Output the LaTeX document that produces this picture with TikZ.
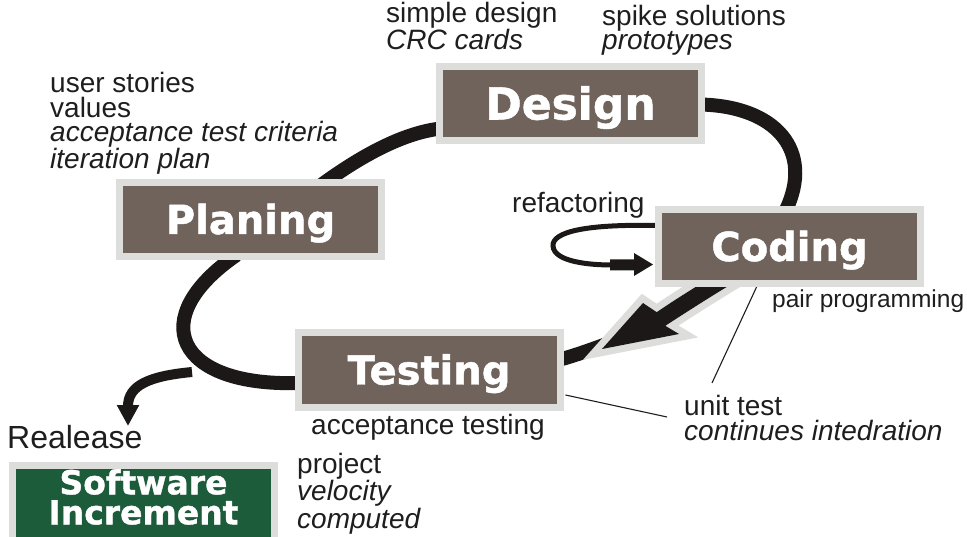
\documentclass[tikz,border=0pt]{standalone}
\usepackage{fontspec}
\setmainfont{Liberation Sans}
\newfontfamily\boxfont{DejaVu Sans}[BoldFeatures={FakeBold=1.2}]
\usetikzlibrary{calc,backgrounds,arrows.meta}

\definecolor{stagebrown}{RGB}{111,99,92}
\definecolor{stageedge}{RGB}{221,221,219}
\definecolor{releasegreen}{RGB}{28,92,58}
\definecolor{flowink}{RGB}{28,24,24}
\definecolor{noteink}{RGB}{30,30,30}

\tikzset{
  stage/.style={draw=stageedge, line width=7pt, fill=stagebrown,
    minimum width=262pt, minimum height=74pt, inner sep=0pt, text=white,
    font=\boxfont\bfseries\fontsize{40}{40}\selectfont,
    text height=29pt, text depth=0pt},
  note/.style={anchor=base west, inner sep=0pt, align=left, text=noteink,
    font=\fontsize{28}{24.7}\selectfont},
  flow/.style={draw=flowink, line width=14pt},
  loopline/.style={draw=flowink, line width=5pt},
  thinline/.style={draw=noteink, line width=1.1pt},
}

\begin{document}
\begin{tikzpicture}[x=1pt,y=-1pt]
\useasboundingbox (0,0) rectangle (967,537);

% process stages
\node[stage, font=\boxfont\bfseries\fontsize{44}{44}\selectfont, text height=32pt] (design) at (570.5,103.5) {Design};
\node[stage] (planing) at (250.5,219.5) {Planing};
\node[stage] (coding)  at (789.5,246.5) {Coding};
\node[stage] (testing) at (429,370) {Testing};

% release box
\node[stage, fill=releasegreen, minimum height=80pt] (release) at (143.5,505) {};
\node[text=white, align=center, inner sep=0pt,
      font=\boxfont\bfseries\fontsize{33}{30}\selectfont] (releaselabel) at (release.center) [yshift=8pt] {Software\\Increment};

% notes (multi-line notes are placed by the baseline of their last line)
\node[note] (designnotes) at (386,50) {simple design\\\textit{CRC cards}};
\node[note] (spikenotes) at (602,50) {spike solutions\\\textit{prototypes}};
\node[note] (plannotes) at (50,169) {user stories\\values\\\textit{acceptance test criteria}\\\textit{iteration plan}};
\node[note] (refactor) at (512,213) {refactoring};
\node[note, font=\fontsize{24.5}{24.5}\selectfont] (pairprog) at (772,308) {pair programming};
\node[note] (unittest) at (684,440) {unit test\\\textit{continues intedration}};
\node[note] (acctest) at (311,435) {acceptance testing};
\node[note, font=\fontsize{32}{32}\selectfont] (releasetag) at (7,448) {Realease};
\node[note, font=\fontsize{28}{24}\selectfont] (velocity) at (297,528) {project\\\textit{velocity}\\\textit{computed}};

\coordinate (fork) at (192,372);
\coordinate (releasetip) at (128,426);
\coordinate (unitA) at (712,383);
\coordinate (unitB) at (667,417);

\begin{scope}[on background layer]
  \fill[white] (0,0) rectangle (967,537);

  % main cycle
  \draw[flow] ($(planing.north)+(68,8)$) .. controls (355,160) and (400,133) .. ($(design.west)+(5,25)$);
  \draw[flow] ($(design.east)+(-5,1)$) .. controls (775,106) and (815,150) .. ($(coding.north)+(-4,5)$);
  \draw[flow] ($(testing.west)+(5,13)$) .. controls (175,387) and (145,318) .. ($(planing.south)+(-14,-5)$);
  \draw[flow] ($(testing.east)+(-5,-10)$) .. controls (580,354) and (598,347) .. (615,341);

  % release branch
  \draw[flowink, line width=10pt, -{Triangle[width=21pt,length=21pt]}]
    (fork) .. controls (150,376) and (128,385) .. (releasetip);

  % coding -> testing arrow with halo
  \fill[flowink, preaction={draw=stageedge, line width=14pt, line join=miter}]
    (721.7,271.2) .. controls (695,287) and (670,303) .. (656.7,312.2)
    -- (643,303) -- (602,349) -- (679,334) -- (665.3,325.8)
    .. controls (685,313) and (710,297) .. (730.3,284.8) -- cycle;

  % refactoring loop
  \draw[loopline] ($(coding.west)+(2,-21)$) .. controls (585,224) and (552,232) .. (553,246)
    .. controls (554,262) and (590,265) .. (612,265);
  \fill[flowink] (610,259.5) -- (634,259.5) -- (634,253) -- ($(coding.west)+(-2,18)$)
    -- (634,276) -- (634,270.5) -- (610,270.5) -- cycle;

  % annotation leaders
  \draw[thinline] ($(coding.south)+(-32,-2)$) -- (unitA);
  \draw[thinline] ($(testing.east)+(2,25)$) -- (unitB);
\end{scope}
\end{tikzpicture}
\end{document}
